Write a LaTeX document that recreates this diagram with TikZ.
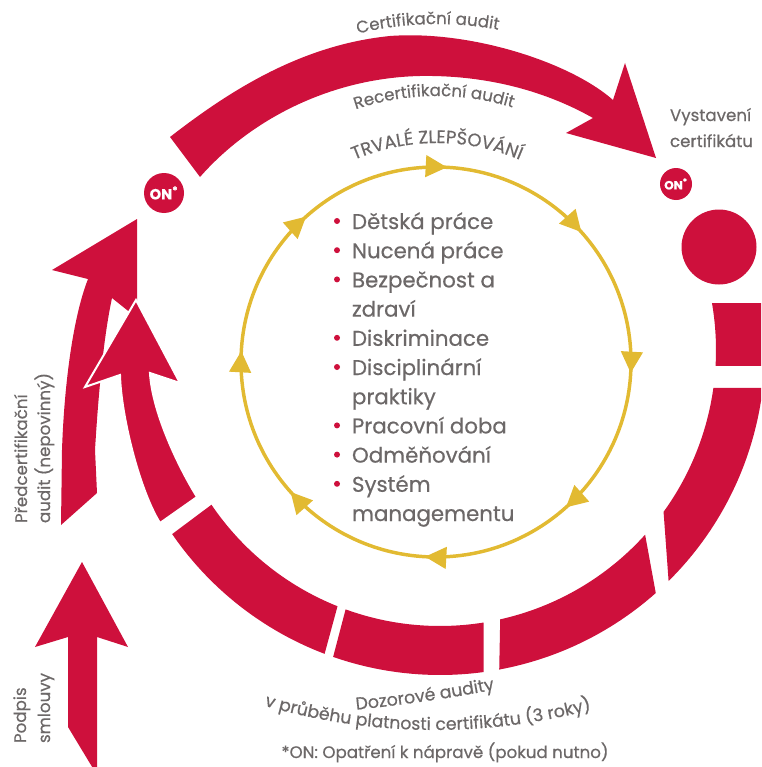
\documentclass[tikz,border=0pt]{standalone}
\usepackage{fontspec}
\setmainfont{Poppins}[FakeBold=0.5]
\usetikzlibrary{arrows.meta,decorations.markings,decorations.text}
\definecolor{rd}{RGB}{206,16,60}
\definecolor{yel}{RGB}{226,186,50}
\definecolor{txt}{RGB}{108,104,104}
\newcommand\lblfont{\fontsize{12.5}{15}\selectfont}
\newcommand\botfont{\fontsize{13}{15}\selectfont}
\newcommand\capfont{\fontsize{13.5}{15}\selectfont}
\newcommand\itemfont{\fontsize{16}{19}\selectfont}
\begin{document}
\begin{tikzpicture}[x=0.75pt,y=-0.75pt,
  every node/.style={inner sep=0pt,outer sep=0pt},
  lbl/.style={text=txt,font=\lblfont},
  itm/.style={text=txt,font=\itemfont,anchor=base west},
  bul/.style={circle,fill=rd,minimum size=4.5pt,inner sep=0pt},
  onc/.style={circle,fill=rd,text=white,inner sep=0pt},
  piece/.style={fill=rd},
  curvtext/.style={decorate,decoration={text along path,text align=center,text={#1}}}]
\useasboundingbox (0,0) rectangle (761,767);
\clip (0,0) rectangle (761,767);

% top arrow (Certifikacni audit)
\fill[rd] (170,137) .. controls (228,92) and (300,45) .. (390,36)
  .. controls (470,30) and (570,62) .. (613,100) -- (625,63) -- (656,158)
  -- (566,133) -- (593,118) .. controls (540,88) and (480,75) .. (420,76)
  .. controls (330,78) and (250,120) .. (200,177) -- cycle;

% ring pieces
\begin{scope}[shift={(440,350)}]
  \fill[piece] (-9.8:276) -- (-8.3:325) arc[start angle=-8.3,end angle=2.8,radius=325]
    -- (3.3:276) arc[start angle=3.3,end angle=-9.8,radius=276] -- cycle;
  \fill[piece] (7.9:276) -- (6.7:325) arc[start angle=6.7,end angle=45.3,radius=325]
    -- (35.9:276) arc[start angle=35.9,end angle=7.9,radius=276] -- cycle;
  \fill[piece] (42:276) -- (48.4:325) arc[start angle=48.4,end angle=79.5,radius=325]
    -- (77.4:276) arc[start angle=77.4,end angle=42,radius=276] -- cycle;
  \fill[piece] (80.9:276) -- (82.3:325) arc[start angle=82.3,end angle=109.2,radius=325]
    -- (110:276) arc[start angle=110,end angle=80.9,radius=276] -- cycle;
  \fill[piece] (111.8:276) -- (110.8:325) arc[start angle=110.8,end angle=145.5,radius=325]
    -- (145.9:276) arc[start angle=145.9,end angle=111.8,radius=276] -- cycle;
\end{scope}

% big dot
\fill[rd] (719,247) circle[radius=37.5];

% arrow 1 (Predcertifikacni audit)
\fill[rd] (61,525) -- (62,450) .. controls (64,390) and (72,320) .. (88,279)
  -- (52,270) -- (137,219) -- (137,318) -- (112,298)
  .. controls (103,340) and (98,400) .. (95,450) -- (97,493) -- cycle;

% arrow 3 (Podpis smlouvy)
\fill[rd] (68,727) -- (68,637) -- (35,647) -- (82,562) -- (128,647) -- (97,637)
  -- (97,775) -- cycle;

% arrow 2 (ring left arrow)
\filldraw[fill=rd,draw=white,line width=1.5pt,line join=miter]
  (160,523) .. controls (139,489) and (121,415) .. (120,375) -- (85,387)
  -- (136,300) -- (180,383) -- (150,373) .. controls (152,410) and (176,463) .. (197,497) -- cycle;

% ON circles
\node[onc,minimum size=30pt,font=\bfseries\fontsize{11}{11}\selectfont] (onL) at (164,193) {ON\textsuperscript{*}};
\node[onc,minimum size=24pt,font=\bfseries\fontsize{9}{9}\selectfont] (onR) at (676,184) {ON\textsuperscript{*}};

% yellow cycle
\draw[yel,line width=2.6pt,postaction={decorate},
  decoration={markings,mark=between positions 0.009 and 0.99 step 0.125 with {\arrow{Triangle[length=16pt,width=16pt]}}}]
  (436,362) ++(0:195) arc[start angle=0,end angle=360,radius=195];

% curved texts
\path[curvtext={|\lblfont\color{txt}|Certifikační audit}]
  (437,354) ++(-121.6:330) arc[start angle=-121.6,end angle=-61.6,radius=330];
\path[curvtext={|\lblfont\color{txt}|Recertifikační audit}]
  (437,350) ++(-126:254) arc[start angle=-126,end angle=-55.4,radius=254];
\path[curvtext={|\capfont\color{txt}|TRVALÉ ZLEPŠOVÁNÍ}]
  (437,354) ++(-135:211) arc[start angle=-135,end angle=-45,radius=211];
\path[curvtext={|\botfont\color{txt}|Dozorové audity}]
  (300,715) .. controls (370,709) and (450,701) .. (550,678);
\path[curvtext={|\botfont\color{txt}|v průběhu platnosti certifikátu (3 roky)}]
  (435,119) ++(111:611) arc[start angle=111,end angle=70.4,radius=611];

% straight labels
\node[lbl,anchor=base west] (vy1) at (670,121) {Vystavení};
\node[lbl,anchor=base west] (vy2) at (670,147) {certifikátu};
\node[lbl,rotate=90,anchor=base west] (pre1) at (27,523) {Předcertifikační};
\node[lbl,rotate=90,anchor=base west] (pre2) at (50,523) {audit (nepovinný)};
\node[lbl,rotate=90,anchor=base west] (pod1) at (26,743) {Podpis};
\node[lbl,rotate=90,anchor=base west] (pod2) at (50,743) {smlouvy};
\node[lbl,anchor=base] (fn) at (445,758) {*ON: Opatření k nápravě (pokud nutno)};

% list
\node[itm] (i1) at (352,229) {Dětská práce};
\node[itm] (i2) at (352,258.2) {Nucená práce};
\node[itm] (i3) at (352,287.4) {Bezpečnost a};
\node[itm] (i3b) at (352,316.6) {zdraví};
\node[itm] (i4) at (352,345.8) {Diskriminace};
\node[itm] (i5) at (352,375) {Disciplinární};
\node[itm] (i5b) at (352,404.2) {praktiky};
\node[itm] (i6) at (352,433.4) {Pracovní doba};
\node[itm] (i7) at (352,462.6) {Odměňování};
\node[itm] (i8) at (352,491.8) {Systém};
\node[itm] (i8b) at (352,521) {managementu};
\node[bul] (b1) at (337,221) {};
\node[bul] (b2) at (337,250.2) {};
\node[bul] (b3) at (337,279.4) {};
\node[bul] (b4) at (337,337.8) {};
\node[bul] (b5) at (337,367) {};
\node[bul] (b6) at (337,425.4) {};
\node[bul] (b7) at (337,454.6) {};
\node[bul] (b8) at (337,483.8) {};
\end{tikzpicture}
\end{document}
